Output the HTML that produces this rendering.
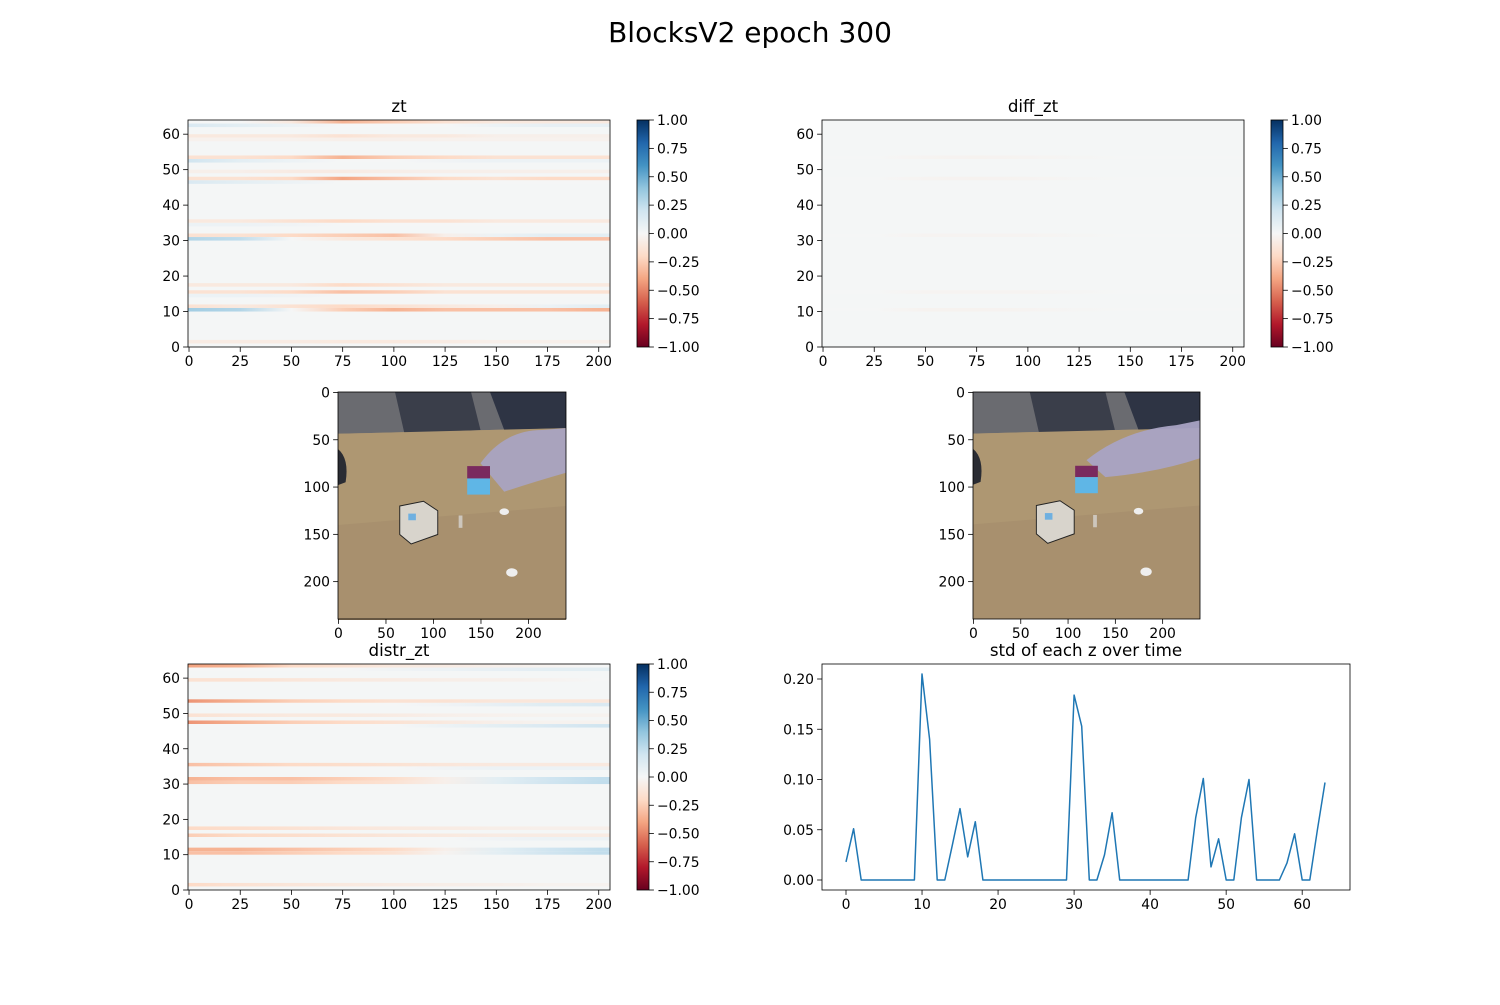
<!DOCTYPE html>
<html><head><meta charset="utf-8"><style>
html,body{margin:0;padding:0;background:#fff;}
svg text{font-family:"DejaVu Sans","Liberation Sans",sans-serif;fill:#000;}
</style></head><body>
<svg id="fig" width="1500" height="1000" viewBox="0 0 1500 1000" xmlns="http://www.w3.org/2000/svg">
<rect width="1500" height="1000" fill="#fff"/>
<text x="750" y="42" font-size="28" text-anchor="middle">BlocksV2 epoch 300</text>
</svg>
<script>
// ---- data ----
const knotX = [0,25,50,75,100,125,150,175,200];
const ztRows = [63,62,59,58,53,52,49,47,46,35,34,31,30,17,15,14,11,10,1];
const ztVals = [
 [0,0,-0.1,-0.35,-0.25,-0.15,-0.1,-0.1,-0.1],
 [0.15,0.1,0.05,0,0,0,0.05,0.08,0.08],
 [-0.1,-0.1,-0.1,-0.15,-0.1,-0.1,-0.05,-0.05,-0.05],
 [-0.04,-0.04,-0.04,-0.05,-0.05,-0.04,-0.04,-0.04,-0.04],
 [-0.15,-0.15,-0.2,-0.35,-0.25,-0.2,-0.15,-0.15,-0.15],
 [0.2,0.1,0.05,0,0,0.03,0.05,0.05,0.05],
 [-0.05,-0.05,-0.08,-0.08,-0.06,-0.05,-0.05,-0.05,-0.05],
 [-0.15,-0.15,-0.2,-0.4,-0.3,-0.2,-0.15,-0.2,-0.2],
 [0.15,0.1,0.05,0,0,0,0,0,0],
 [-0.1,-0.1,-0.15,-0.2,-0.15,-0.15,-0.1,-0.1,-0.1],
 [0.05,0.05,0.03,0,0,0,0,0,0],
 [-0.15,-0.15,-0.2,-0.25,-0.3,-0.05,0.05,0.1,0.1],
 [0.3,0.25,0,-0.1,-0.15,-0.2,-0.25,-0.3,-0.3],
 [-0.1,-0.1,-0.1,-0.2,-0.15,-0.1,-0.1,-0.1,-0.1],
 [-0.15,-0.15,-0.2,-0.3,-0.25,-0.15,-0.15,-0.15,-0.15],
 [0.05,0.05,0.03,0,0,0,0,0,0],
 [-0.15,-0.1,-0.15,-0.2,-0.15,-0.1,-0.05,0.05,0.1],
 [0.35,0.3,0,-0.25,-0.35,-0.3,-0.3,-0.3,-0.35],
 [-0.08,-0.08,-0.08,-0.1,-0.1,-0.08,-0.05,-0.05,-0.05]
];
const diffRows = [53,47,31,15,10];
const diffVals = [
 [0,0,-0.02,-0.03,-0.02,-0.01,0,0,0],
 [0,0,-0.02,-0.03,-0.02,-0.01,0,0,0],
 [0,0,-0.02,-0.02,-0.02,-0.01,0,0,0],
 [0,0,-0.02,-0.02,-0.02,-0.01,0,0,0],
 [0,0,-0.03,-0.03,-0.02,-0.01,0,0,0]
];
const distrRows = [63,62,59,53,52,49,47,46,35,34,31,30,17,15,14,11,10,1];
const distrVals = [
 [-0.4,-0.35,-0.2,-0.15,-0.1,-0.08,-0.05,-0.03,0],
 [0,0,0,0,0.03,0.05,0.08,0.1,0.1],
 [-0.15,-0.15,-0.12,-0.1,-0.08,-0.06,-0.05,-0.03,0],
 [-0.45,-0.35,-0.25,-0.2,-0.15,-0.15,-0.12,-0.12,-0.12],
 [0,0,0,0,0,0.03,0.08,0.12,0.15],
 [-0.15,-0.12,-0.1,-0.1,-0.08,-0.05,-0.04,-0.03,-0.03],
 [-0.45,-0.35,-0.25,-0.2,-0.15,-0.1,-0.05,-0.03,-0.03],
 [0,0,0,0,0,0.05,0.1,0.15,0.2],
 [-0.3,-0.25,-0.2,-0.18,-0.15,-0.12,-0.1,-0.1,-0.1],
 [0,0,0,0,0,0.03,0.05,0.05,0.05],
 [-0.35,-0.3,-0.3,-0.25,-0.18,-0.05,0.1,0.2,0.25],
 [-0.3,-0.25,-0.25,-0.2,-0.15,-0.05,0.1,0.2,0.25],
 [-0.2,-0.18,-0.15,-0.12,-0.1,-0.08,-0.06,-0.05,-0.05],
 [-0.25,-0.2,-0.18,-0.15,-0.12,-0.1,-0.08,-0.08,-0.08],
 [0,0,0,0,0,0,0.03,0.05,0.05],
 [-0.35,-0.35,-0.3,-0.25,-0.2,-0.05,0.1,0.2,0.25],
 [-0.3,-0.3,-0.25,-0.2,-0.15,-0.03,0.1,0.2,0.25],
 [-0.2,-0.15,-0.12,-0.1,-0.08,-0.06,-0.05,-0.03,-0.03]
];
const heatXTicks = [0,25,50,75,100,125,150,175,200];
const heatYTicks = [0,10,20,30,40,50,60];
const cbTicks = [-1,-0.75,-0.5,-0.25,0,0.25,0.5,0.75,1];
const cbLabels = ["\u22121.00","\u22120.75","\u22120.50","\u22120.25","0.00","0.25","0.50","0.75","1.00"];
const imgTicks = [0,50,100,150,200];
const stdVals = [0.018,0.051,0,0,0,0,0,0,0,0,0.205,0.14,0,0,0.035,0.071,0.023,0.058,0,0,0,0,0,0,0,0,0,0,0,0,0.184,0.153,0,0,0.025,0.067,0,0,0,0,0,0,0,0,0,0,0.062,0.101,0.013,0.041,0,0,0.062,0.100,0,0,0,0,0.017,0.046,0,0,0.05,0.097];
const stdXTicks = [0,10,20,30,40,50,60];
const stdYTicks = [0,0.05,0.1,0.15,0.2];
const stdYLabels = ["0.00","0.05","0.10","0.15","0.20"];

// ---- helpers ----
const NS="http://www.w3.org/2000/svg";
const fig=document.getElementById('fig');
function mk(tag,attrs,parent){const e=document.createElementNS(NS,tag);for(const k in attrs)e.setAttribute(k,attrs[k]);(parent||fig).appendChild(e);return e;}
const rdbu=["#67001f","#b2182b","#d6604d","#f4a582","#fddbc7","#f5f6f6","#d1e5f0","#92c5de","#4393c3","#2166ac","#053061"];
function hex(h){return [parseInt(h.substr(1,2),16),parseInt(h.substr(3,2),16),parseInt(h.substr(5,2),16)];}
function cmap(v){let t=(Math.max(-1,Math.min(1,v))+1)/2*10;let i=Math.min(9,Math.floor(t));let f=t-i;const a=hex(rdbu[i]),b=hex(rdbu[i+1]);return "rgb("+a.map((c,j)=>Math.round(c+(b[j]-c)*f)).join(",")+")";}
function lin(d0,d1,p0,p1){return v=>p0+(v-d0)/(d1-d0)*(p1-p0);}
function label(txt,x,y,anchor,name,size){const t=mk('text',{x:x,y:y,'font-size':size||13.9,'text-anchor':anchor});t.textContent=txt;return t;}
function xTicks(ticks,labels,sx,y,name){ticks.forEach((v,i)=>{const x=sx(v);const l=mk('line',{x1:x,x2:x,y1:y,y2:y+4.9,stroke:'#000','stroke-width':0.8});label(labels[i],x,y+19,'middle',name+'-label');});}
function yTicks(ticks,labels,sy,x,name){ticks.forEach((v,i)=>{const y=sy(v);const l=mk('line',{x1:x-4.9,x2:x,y1:y,y2:y,stroke:'#000','stroke-width':0.8});label(labels[i],x-8,y+5,'end',name+'-label');});}
function frame(x0,y0,x1,y1,name){const r=mk('rect',{x:x0,y:y0,width:x1-x0,height:y1-y0,fill:'none',stroke:'#000','stroke-width':0.8});}
let gid=0;
function heatmap(box,rows,vals,title,name){
  const [x0,y0,x1,y1]=box;
  const sx=lin(-0.5,205.5,x0,x1), sy=lin(0,64,y1,y0);
  const g=mk('g',{});
  const bg=mk('rect',{x:x0,y:y0,width:x1-x0,height:y1-y0,fill:'#f4f6f6'},g);
  
  rows.forEach((r,i)=>{
    const id='g'+(gid++);
    const lg=mk('linearGradient',{id:id,gradientUnits:'userSpaceOnUse',x1:sx(0),x2:sx(200),y1:0,y2:0},g);
    knotX.forEach((k,j)=>mk('stop',{offset:(k/200),'stop-color':cmap(vals[i][j])},lg));
    const c=mk('rect',{x:x0,y:sy(r+1),width:x1-x0,height:sy(r)-sy(r+1),fill:'url(#'+id+')'},g);
    
    
  });
  frame(x0,y0,x1,y1,name+'-frame');
  xTicks(heatXTicks,heatXTicks.map(String),sx,y1,name+'-x-tick');
  yTicks(heatYTicks,heatYTicks.map(String),sy,x0,name+'-y-tick');
  label(title,(x0+x1)/2,y0-8,'middle',name+'-title',16.7);
}
function colorbar(x0,y0,y1,name){
  const w=12;const id='cb'+(gid++);
  const lg=mk('linearGradient',{id:id,x1:0,x2:0,y1:1,y2:0});
  rdbu.forEach((c,i)=>mk('stop',{offset:i/10,'stop-color':c},lg));
  const r=mk('rect',{x:x0,y:y0,width:w,height:y1-y0,fill:'url(#'+id+')',stroke:'#000','stroke-width':0.8});
  
  const sy=lin(-1,1,y1,y0);
  cbTicks.forEach((v,i)=>{const y=sy(v);const l=mk('line',{x1:x0+w,x2:x0+w+4.9,y1:y,y2:y,stroke:'#000','stroke-width':0.8});label(cbLabels[i],x0+w+8,y+5,'start',name+'-label');});
}
function scene(x0,y0,x1,y1,variant,name){
  const s=(x1-x0)/240;
  const g=mk('g',{transform:'translate('+x0+','+y0+') scale('+s+')'});
  
  mk('rect',{x:0,y:0,width:240,height:240,fill:'#a8916f'},g);
  mk('path',{d:'M0,0 H240 V38 L0,44 Z',fill:'#6a6b70'},g);
  mk('path',{d:'M60,0 H140 L150,40 L70,44 Z',fill:'#3a3e4a'},g);
  mk('path',{d:'M160,0 H240 V38 L175,40 Z',fill:'#2e3444'},g);
  mk('path',{d:'M0,44 L240,38 V240 H0 Z',fill:'#ae9772'},g);
  mk('path',{d:'M0,140 L240,120 V240 H0 Z',fill:'#a38c6c',opacity:0.6},g);
  mk('path',{d:'M0,60 Q12,70 8,95 L0,98 Z',fill:'#2a2c33'},g);
  if(variant===0){
    mk('path',{d:'M150,75 Q175,40 215,40 L240,38 V85 Q205,95 175,105 Z',fill:'#a9a3bd'},g);
    mk('rect',{x:136,y:78,width:24,height:13,fill:'#7a2a5e'},g);
    mk('rect',{x:136,y:91,width:24,height:17,fill:'#5fb6e6'},g);
  } else {
    mk('path',{d:'M120,72 Q160,40 215,35 L240,30 V70 Q195,85 140,90 Z',fill:'#a9a3c4',opacity:0.95},g);
    mk('rect',{x:108,y:78,width:24,height:12,fill:'#7a2a5e'},g);
    mk('rect',{x:108,y:90,width:24,height:17,fill:'#5fb6e6'},g);
  }
  const cx=variant===0?65:67;
  mk('path',{d:'M'+cx+',120 L'+(cx+25)+',115 L'+(cx+40)+',125 L'+(cx+40)+',150 L'+(cx+12)+',160 L'+cx+',150 Z',fill:'#d8d4cc',stroke:'#222','stroke-width':1},g);
  mk('rect',{x:cx+9,y:128,width:8,height:7,fill:'#6fb0e0'},g);
  mk('ellipse',{cx:175,cy:126,rx:5,ry:3.5,fill:'#eee'},g);
  mk('ellipse',{cx:183,cy:190,rx:6,ry:4.5,fill:'#eee'},g);
  mk('rect',{x:127,y:130,width:4,height:13,fill:'#ddd',opacity:0.7},g);
  frame(x0,y0,x1,y1,name+'-frame');
  const sx=lin(-0.5,239.5,x0,x1), sy=lin(-0.5,239.5,y0,y1);
  xTicks(imgTicks,imgTicks.map(String),sx,y1,name+'-x-tick');
  yTicks(imgTicks,imgTicks.map(String),sy,x0,name+'-y-tick');
}

// ---- panels ----
heatmap([188,120,610,347],ztRows,ztVals,'zt','zt-heatmap');
colorbar(637,120,347,'zt-colorbar');
heatmap([822,120,1244,347],diffRows,diffVals,'diff_zt','diff-zt-heatmap');
colorbar(1271,120,347,'diff-zt-colorbar');
scene(338,392,566,619,0,'frame-image-left');
scene(973,392,1200,619,1,'frame-image-right');
heatmap([188,664,610,890],distrRows,distrVals,'distr_zt','distr-zt-heatmap');
colorbar(637,664,890,'distr-zt-colorbar');

// line chart
(function(){
  const x0=822,y0=664,x1=1350,y1=890;
  const sx=lin(0,63,846,1325), sy=lin(0,0.2,880,679);
  frame(x0,y0,x1,y1,'std-axes-frame');
  const d=stdVals.map((v,i)=>(i?'L':'M')+sx(i).toFixed(1)+','+sy(v).toFixed(1)).join(' ');
  const p=mk('path',{d:d,fill:'none',stroke:'#1f77b4','stroke-width':1.5,'stroke-linejoin':'round'});
  
  
  xTicks(stdXTicks,stdXTicks.map(String),sx,y1,'std-x-tick');
  yTicks(stdYTicks,stdYLabels,sy,x0,'std-y-tick');
  label('std of each z over time',(x0+x1)/2,y0-8,'middle','std-title',16.7);
})();
</script>
</body></html>
